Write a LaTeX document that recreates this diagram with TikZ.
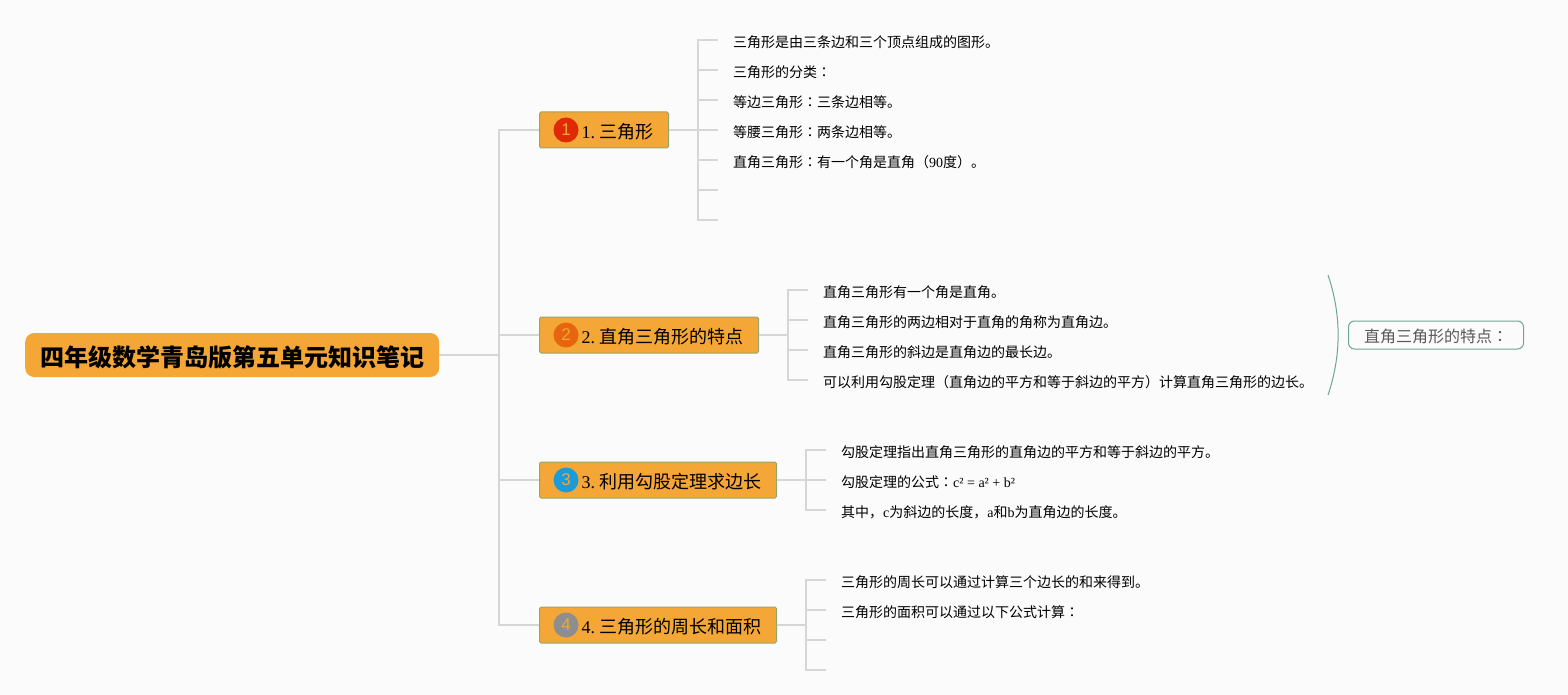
\documentclass[tikz,border=0pt]{standalone}
\usepackage{fontspec}
\setmainfont{Noto Sans CJK SC}
\newfontfamily\lat{Liberation Serif}
\newfontfamily\tcfont{Noto Sans CJK TC}
\newfontfamily\numfont{Liberation Sans}
\newcommand{\mh}{{\tcfont ：}}
\newcommand{\topictext}[2]{\hspace*{27pt}{\lat #1.}\hspace{4.5pt}#2}
\definecolor{bgcol}{HTML}{FBFBFB}
\definecolor{boxcol}{HTML}{F4A636}
\definecolor{boxedge}{HTML}{93A870}
\definecolor{linkcol}{HTML}{D6D6D6}
\definecolor{tealcol}{HTML}{6FA596}
\definecolor{redcol}{HTML}{E02A05}
\definecolor{orangecol}{HTML}{E8650F}
\definecolor{bluecol}{HTML}{1C9BD9}
\definecolor{graycol}{HTML}{8E8E8E}
\tikzset{
  link/.style={draw=linkcol,line width=1.5pt},
  rootbox/.style={fill=boxcol,rounded corners=9pt,anchor=west,inner xsep=0pt,inner ysep=0pt,
    minimum width=414pt,minimum height=44pt,text height=26pt,text depth=4pt,
    font=\fontsize{24}{24}\selectfont\bfseries},
  topicbox/.style={fill=boxcol,draw=boxedge,line width=1pt,rounded corners=1.5pt,anchor=west,
    inner xsep=15pt,inner ysep=0pt,minimum height=36pt,text height=20pt,text depth=2.2pt,
    font=\fontsize{18}{18}\selectfont},
  numdot/.style={circle,minimum size=25pt,inner sep=0pt,text=boxcol,font=\numfont\fontsize{17}{17}\selectfont},
  leaf/.style={anchor=west,inner xsep=15pt,inner ysep=0pt,text height=17pt,text depth=2.6pt,
    font=\fontsize{14}{14}\selectfont},
  notebox/.style={draw=tealcol,line width=1pt,rounded corners=6pt,anchor=west,minimum width=175pt,
    minimum height=28pt,inner sep=0pt,text height=17pt,text depth=2pt,text=black!65,
    font=\fontsize{16}{16}\selectfont},
}
\begin{document}
\begin{tikzpicture}[x=1pt,y=-1pt]
    \fill[bgcol] (0,0) rectangle (1568,695);
    \useasboundingbox (0,0) rectangle (1568,695);
    % center and topics
    \node[rootbox] (root) at (25,355) {四年级数学青岛版第五单元知识笔记};
    \node[topicbox] (t1) at (539,130) {\topictext{1}{三角形}};
    \node[topicbox] (t2) at (539,335) {\topictext{2}{直角三角形的特点}};
    \node[topicbox] (t3) at (539,480) {\topictext{3}{利用勾股定理求边长}};
    \node[topicbox] (t4) at (539,625) {\topictext{4}{三角形的周长和面积}};
    \node[numdot,fill=redcol] (n1) at (566,130) {1};
    \node[numdot,fill=orangecol] (n2) at (566,335) {2};
    \node[numdot,fill=bluecol] (n3) at (566,480) {3};
    \node[numdot,fill=graycol] (n4) at (566,625) {4};
    \coordinate (hub) at (499,355);
    \draw[link] (root.east) -- (hub);
    \foreach \t in {t1,t2,t3,t4}
        \draw[link] (hub) |- (\t.west);
    % leaves of topic 1
    \coordinate (s1) at (698,130);
    \draw[link] (t1.east) -- (s1);
    \foreach \n/\y/\txt in {a1/40/三角形是由三条边和三个顶点组成的图形。,
        a2/70/三角形的分类\mh,
        a3/100/等边三角形\mh 三条边相等。,
        a4/130/等腰三角形\mh 两条边相等。,
        a5/160/直角三角形\mh 有一个角是直角（{\lat 90}度）。,
        a6/190/,a7/220/} {
        \node[leaf] (\n) at (718,\y) {\txt};
        \draw[link] (s1) |- (\n.west);
    }
    % leaves of topic 2
    \coordinate (s2) at (788,335);
    \draw[link] (t2.east) -- (s2);
    \foreach \n/\y/\txt in {b1/290/直角三角形有一个角是直角。,
        b2/320/直角三角形的两边相对于直角的角称为直角边。,
        b3/350/直角三角形的斜边是直角边的最长边。,
        b4/380/可以利用勾股定理（直角边的平方和等于斜边的平方）计算直角三角形的边长。} {
        \node[leaf] (\n) at (808,\y) {\txt};
        \draw[link] (s2) |- (\n.west);
    }
    % leaves of topic 3
    \coordinate (s3) at (806,480);
    \draw[link] (t3.east) -- (s3);
    \foreach \n/\y/\txt in {c1/450/勾股定理指出直角三角形的直角边的平方和等于斜边的平方。,
        c2/480/勾股定理的公式\mh{\lat c² = a² + b²},
        c3/510/其中，{\lat c}为斜边的长度，{\lat a}和{\lat b}为直角边的长度。} {
        \node[leaf] (\n) at (826,\y) {\txt};
        \draw[link] (s3) |- (\n.west);
    }
    % leaves of topic 4
    \coordinate (s4) at (806,625);
    \draw[link] (t4.east) -- (s4);
    \foreach \n/\y/\txt in {d1/580/三角形的周长可以通过计算三个边长的和来得到。,
        d2/610/三角形的面积可以通过以下公式计算\mh,
        d3/640/,d4/670/} {
        \node[leaf] (\n) at (826,\y) {\txt};
        \draw[link] (s4) |- (\n.west);
    }
    % summary of topic 2
    \coordinate (up) at (1328,275);
    \coordinate (down) at (1328,395);
    \draw[tealcol,line width=1pt] (up) .. controls (1341.5,315) and (1341.5,355) .. (down);
    \node[notebox] (note) at (1348,335) {直角三角形的特点\mh};
\end{tikzpicture}
\end{document}
